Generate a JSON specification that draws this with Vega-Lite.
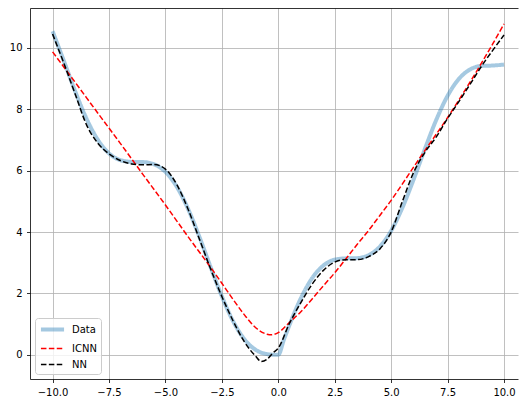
{
  "$schema": "https://vega.github.io/schema/vega-lite/v6.json",
  "autosize": "none",
  "width": 488,
  "height": 371,
  "padding": {"left": 30, "top": 8, "right": 1, "bottom": 17},
  "background": "white",
  "config": {
    "view": {"stroke": null},
    "font": "DejaVu Sans",
    "axis": {
      "labelFont": "DejaVu Sans", "labelFontSize": 10, "labelColor": "#000",
      "tickColor": "#000", "tickSize": 3.5, "tickWidth": 0.8,
      "domainColor": "#000", "domainWidth": 0.8,
      "gridColor": "#b0b0b0", "gridWidth": 0.8, "gridOpacity": 1, "title": null
    },
    "axisX": {"labelPadding": 4.5},
    "axisY": {"labelPadding": 4.5},
    "legend": {
      "orient": "bottom-left", "offset": 5, "padding": 4,
      "fillColor": "rgba(255,255,255,0.8)", "strokeColor": "#cccccc", "cornerRadius": 3,
      "symbolType": "M-2.1,0H2.1", "symbolSize": 121, "symbolOffset": 6, "labelFont": "DejaVu Sans",
      "labelFontSize": 10, "labelColor": "#000", "rowPadding": 4, "labelOffset": 12, "title": null
    }
  },
  "data": {"values": [
    {"s":"Data","x":-10,"y":10.544},{"s":"Data","x":-9.5,"y":9.575},{"s":"Data","x":-9,"y":8.588},{"s":"Data","x":-8.5,"y":7.70},{"s":"Data","x":-8,"y":7.011},{"s":"Data","x":-7.5,"y":6.562},{"s":"Data","x":-7,"y":6.343},{"s":"Data","x":-6.5,"y":6.285},{"s":"Data","x":-6,"y":6.279},{"s":"Data","x":-5.5,"y":6.206},{"s":"Data","x":-5,"y":5.959},{"s":"Data","x":-4.5,"y":5.478},{"s":"Data","x":-4,"y":4.757},{"s":"Data","x":-3.5,"y":3.851},{"s":"Data","x":-3,"y":2.859},{"s":"Data","x":-2.5,"y":1.902},{"s":"Data","x":-2,"y":1.091},{"s":"Data","x":-1.5,"y":0.503},{"s":"Data","x":-1,"y":0.159},{"s":"Data","x":-0.5,"y":0.021},{"s":"Data","x":-0.25,"y":0.003},{"s":"Data","x":0,"y":0},{"s":"Data","x":0.25,"y":0.497},{"s":"Data","x":0.5,"y":0.979},{"s":"Data","x":1,"y":1.841},{"s":"Data","x":1.5,"y":2.498},{"s":"Data","x":2,"y":2.909},{"s":"Data","x":2.5,"y":3.099},{"s":"Data","x":3,"y":3.141},{"s":"Data","x":3.5,"y":3.149},{"s":"Data","x":4,"y":3.243},{"s":"Data","x":4.5,"y":3.522},{"s":"Data","x":5,"y":4.041},{"s":"Data","x":5.5,"y":4.795},{"s":"Data","x":6,"y":5.721},{"s":"Data","x":6.5,"y":6.715},{"s":"Data","x":7,"y":7.657},{"s":"Data","x":7.5,"y":8.438},{"s":"Data","x":8,"y":8.989},{"s":"Data","x":8.5,"y":9.298},{"s":"Data","x":9,"y":9.412},{"s":"Data","x":9.5,"y":9.425},{"s":"Data","x":10,"y":9.456},
    {"s":"ICNN","x":-10,"y":9.87},{"s":"ICNN","x":-9,"y":8.88},{"s":"ICNN","x":-8,"y":7.88},{"s":"ICNN","x":-7,"y":6.89},{"s":"ICNN","x":-6,"y":5.88},{"s":"ICNN","x":-5,"y":4.88},{"s":"ICNN","x":-4,"y":3.85},{"s":"ICNN","x":-3,"y":2.85},{"s":"ICNN","x":-2.5,"y":2.33},{"s":"ICNN","x":-2,"y":1.80},{"s":"ICNN","x":-1.5,"y":1.30},{"s":"ICNN","x":-1,"y":0.88},{"s":"ICNN","x":-0.5,"y":0.67},{"s":"ICNN","x":-0.3,"y":0.65},{"s":"ICNN","x":0,"y":0.72},{"s":"ICNN","x":0.5,"y":1.06},{"s":"ICNN","x":1,"y":1.40},{"s":"ICNN","x":1.5,"y":1.82},{"s":"ICNN","x":2,"y":2.25},{"s":"ICNN","x":2.5,"y":2.67},{"s":"ICNN","x":3,"y":3.13},{"s":"ICNN","x":3.5,"y":3.60},{"s":"ICNN","x":4,"y":4.05},{"s":"ICNN","x":4.5,"y":4.54},{"s":"ICNN","x":5,"y":5.03},{"s":"ICNN","x":5.5,"y":5.57},{"s":"ICNN","x":6,"y":6.12},{"s":"ICNN","x":6.5,"y":6.66},{"s":"ICNN","x":7,"y":7.19},{"s":"ICNN","x":7.5,"y":7.73},{"s":"ICNN","x":8,"y":8.30},{"s":"ICNN","x":8.5,"y":8.89},{"s":"ICNN","x":9,"y":9.50},{"s":"ICNN","x":9.5,"y":10.13},{"s":"ICNN","x":10,"y":10.78},
    {"s":"NN","x":-10,"y":10.45},{"s":"NN","x":-9.5,"y":9.5},{"s":"NN","x":-9,"y":8.5},{"s":"NN","x":-8.5,"y":7.5},{"s":"NN","x":-8,"y":6.9},{"s":"NN","x":-7.5,"y":6.55},{"s":"NN","x":-7,"y":6.33},{"s":"NN","x":-6.5,"y":6.22},{"s":"NN","x":-6,"y":6.19},{"s":"NN","x":-5.5,"y":6.2},{"s":"NN","x":-5,"y":6.05},{"s":"NN","x":-4.5,"y":5.55},{"s":"NN","x":-4,"y":4.75},{"s":"NN","x":-3.5,"y":3.78},{"s":"NN","x":-3,"y":2.8},{"s":"NN","x":-2.5,"y":1.9},{"s":"NN","x":-2,"y":1.1},{"s":"NN","x":-1.5,"y":0.42},{"s":"NN","x":-1,"y":-0.05},{"s":"NN","x":-0.75,"y":-0.22},{"s":"NN","x":-0.5,"y":-0.15},{"s":"NN","x":-0.25,"y":0.05},{"s":"NN","x":0,"y":0.22},{"s":"NN","x":0.5,"y":1.03},{"s":"NN","x":1,"y":1.7},{"s":"NN","x":1.5,"y":2.3},{"s":"NN","x":2,"y":2.75},{"s":"NN","x":2.5,"y":3.02},{"s":"NN","x":3,"y":3.1},{"s":"NN","x":3.5,"y":3.1},{"s":"NN","x":4,"y":3.2},{"s":"NN","x":4.5,"y":3.45},{"s":"NN","x":5,"y":4.0},{"s":"NN","x":5.5,"y":5.0},{"s":"NN","x":6,"y":5.95},{"s":"NN","x":6.5,"y":6.6},{"s":"NN","x":7,"y":7.1},{"s":"NN","x":7.5,"y":7.7},{"s":"NN","x":8,"y":8.25},{"s":"NN","x":8.5,"y":8.82},{"s":"NN","x":9,"y":9.4},{"s":"NN","x":9.5,"y":9.92},{"s":"NN","x":10,"y":10.42}
  ]},
  "layer": [
    {
      "mark": {"type": "line", "interpolate": "monotone"},
      "encoding": {
        "x": {"field": "x", "type": "quantitative", "scale": {"domain": [-11, 10.62], "nice": false, "zero": false},
              "axis": {"orient": "bottom", "values": [-10, -7.5, -5, -2.5, 0, 2.5, 5, 7.5, 10], "format": ".1f", "grid": true}},
        "y": {"field": "y", "type": "quantitative", "scale": {"domain": [-0.79, 11.3], "nice": false, "zero": false},
              "axis": {"values": [0, 2, 4, 6, 8, 10], "format": "d", "grid": true}},
        "color": {"field": "s", "type": "nominal", "sort": ["Data", "ICNN", "NN"],
                  "scale": {"type": "ordinal", "domain": ["Data", "ICNN", "NN"], "range": ["#1f77b4", "#ff0000", "#000000"]}},
        "strokeDash": {"field": "s", "type": "nominal", "sort": ["Data", "ICNN", "NN"],
                  "scale": {"type": "ordinal", "domain": ["Data", "ICNN", "NN"], "range": [[1, 0], [5.5, 2.4], [5.5, 2.4]]}},
        "strokeWidth": {"field": "s", "type": "nominal", "sort": ["Data", "ICNN", "NN"],
                  "scale": {"type": "ordinal", "domain": ["Data", "ICNN", "NN"], "range": [4, 1.5, 1.5]}},
        "opacity": {"field": "s", "type": "nominal", "sort": ["Data", "ICNN", "NN"],
                  "scale": {"type": "ordinal", "domain": ["Data", "ICNN", "NN"], "range": [0.4, 1, 1]}}
      }
    },
    {
      "mark": {"type": "line", "opacity": 0},
      "encoding": {
        "x": {"field": "x", "type": "quantitative",
              "axis": {"orient": "top", "labels": false, "ticks": false, "grid": false, "domain": true}},
        "y": {"field": "y", "type": "quantitative"},
        "detail": {"field": "s"}
      }
    }
  ],
  "resolve": {"axis": {"x": "independent"}}
}
